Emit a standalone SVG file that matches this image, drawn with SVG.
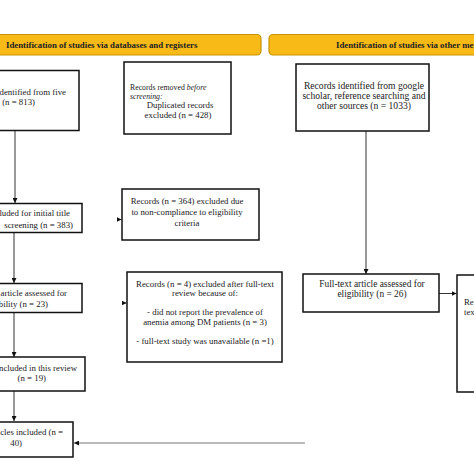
<svg xmlns="http://www.w3.org/2000/svg" width="474" height="474" viewBox="0 0 474 474">
<defs>
<marker id="ah" viewBox="0 0 10 10" refX="10" refY="5" markerWidth="5" markerHeight="5" orient="auto">
<path d="M0,0 L10,5 L0,10 z" fill="#111"/>
</marker>
<style>
.hdr{fill:#F8BA16;stroke:#C99300;stroke-width:1.2}
.ht{font-family:"Liberation Serif",serif;font-weight:bold;font-size:8.8px;fill:#222}
.box{fill:#fff;stroke:#111;stroke-width:1.5}
.t{font-family:"Liberation Serif",serif;font-size:8.8px;fill:#222}
.c{text-anchor:middle}
.e{text-anchor:end}
.ln{stroke:#333;stroke-width:1;fill:none}
</style>
</defs>
<rect width="474" height="474" fill="#fff"/>
<g id="header1"><rect class="hdr" x="-10" y="34.5" width="271" height="20.5" rx="4"/><text class="ht" x="6" y="48">Identification of studies via databases and registers</text></g>
<g id="header2"><rect class="hdr" x="269" y="34.5" width="220" height="20.5" rx="4"/><text class="ht" x="336" y="48">Identification of studies via other methods</text></g>

<g id="connectors">
<line class="ln" x1="15" y1="130" x2="15" y2="203" marker-end="url(#ah)"/>
<line class="ln" x1="14" y1="232" x2="14" y2="283" marker-end="url(#ah)"/>
<line class="ln" x1="14" y1="312" x2="14" y2="357" marker-end="url(#ah)"/>
<line class="ln" x1="14" y1="391" x2="14" y2="421" marker-end="url(#ah)"/>
<line class="ln" x1="119" y1="219.5" x2="121.5" y2="219.5" marker-end="url(#ah)"/>
<line class="ln" x1="124" y1="303" x2="126.5" y2="303" marker-end="url(#ah)"/>
<line class="ln" x1="366" y1="131" x2="366" y2="274" marker-end="url(#ah)"/>
<line class="ln" x1="439" y1="293.5" x2="456.5" y2="293.5" marker-end="url(#ah)"/>
<line class="ln" x1="305" y1="443" x2="74" y2="443" marker-end="url(#ah)" style="stroke:#777"/>
</g>

<g id="n1"><rect class="box" x="-60" y="70.5" width="139" height="60"/>
<text class="t e" x="66" y="95">Records identified from five</text>
<text class="t e" x="35" y="105">databases (n = 813)</text></g>

<g id="n2"><rect class="box" x="124" y="62" width="107" height="72"/>
<text class="t" x="130" y="90" style="font-size:7.8px">Records removed <tspan font-style="italic">before</tspan></text>
<text class="t" x="130" y="98.5" font-style="italic" style="font-size:7.8px">screening:</text>
<text class="t c" x="180" y="108">Duplicated records</text>
<text class="t c" x="178" y="118">excluded (n = 428)</text></g>

<g id="n3"><rect class="box" x="296" y="64" width="133" height="67"/>
<text class="t c" x="364" y="89" style="font-size:9.6px">Records identified from google</text>
<text class="t c" x="364" y="99" style="font-size:9.6px">scholar, reference searching and</text>
<text class="t c" x="364" y="109" style="font-size:9.6px">other sources (n = 1033)</text></g>

<g id="n4"><rect class="box" x="-60" y="203.5" width="142" height="29"/>
<text class="t e" x="70" y="216">Records included for initial title</text>
<text class="t e" x="73" y="228">screening (n = 383)</text></g>

<g id="n5"><rect class="box" x="122" y="189" width="137" height="51"/>
<text class="t c" x="187" y="204">Records (n = 364) excluded due</text>
<text class="t c" x="187" y="215">to non-compliance to eligibility</text>
<text class="t c" x="187" y="226">criteria</text></g>

<g id="n6"><rect class="box" x="-60" y="283.5" width="142" height="29"/>
<text class="t e" x="67" y="296">Full-text article assessed for</text>
<text class="t e" x="48" y="307">eligibility (n = 23)</text></g>

<g id="n7"><rect class="box" x="127" y="272" width="155" height="90"/>
<text class="t c" x="205" y="287">Records (n = 4) excluded after full-text</text>
<text class="t c" x="205" y="296">review because of:</text>
<text class="t c" x="205" y="315">- did not report the prevalence of</text>
<text class="t c" x="205" y="325">anemia among DM patients (n = 3)</text>
<text class="t c" x="205" y="344">- full-text study was unavailable (n =1)</text></g>

<g id="n8"><rect class="box" x="303" y="274" width="136" height="38"/>
<text class="t c" x="372" y="287" style="font-size:9.4px">Full-text article assessed for</text>
<text class="t c" x="372" y="297" style="font-size:9.4px">eligibility (n = 26)</text></g>

<g id="n9"><rect class="box" x="457" y="275" width="60" height="117"/>
<text class="t" x="464" y="305">Reports excluded</text>
<text class="t" x="464" y="315">text</text></g>

<g id="n10"><rect class="box" x="-60" y="357" width="145" height="34"/>
<text class="t e" x="77" y="371">Studies included in this review</text>
<text class="t e" x="46" y="381">(n = 19)</text></g>

<g id="n11"><rect class="box" x="-60" y="422" width="133" height="35"/>
<text class="t e" x="63" y="435">Articles included (n =</text>
<text class="t e" x="22" y="446">40)</text></g>
</svg>
